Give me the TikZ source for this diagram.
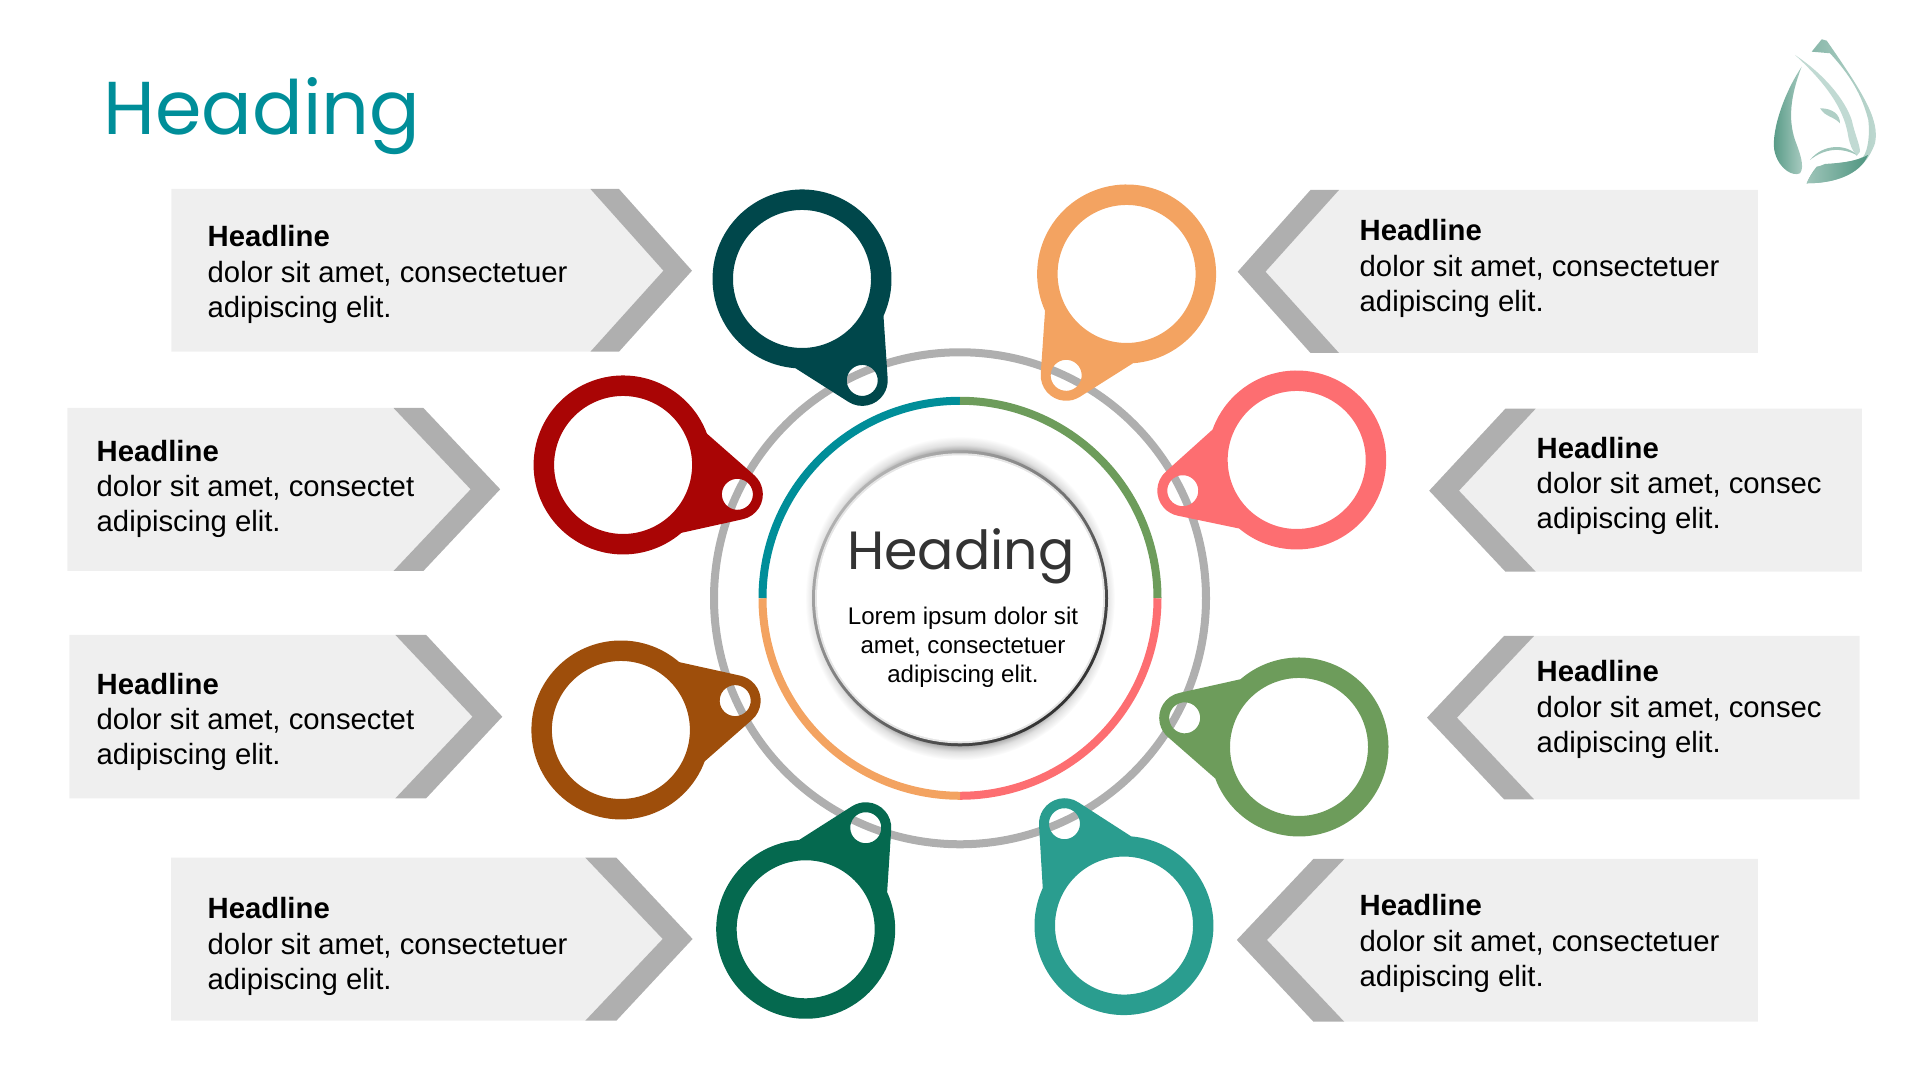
\documentclass[tikz,border=0pt]{standalone}
\usepackage{fontspec}
\setmainfont{Liberation Sans}
\newfontfamily\poppins{Poppins}
\usetikzlibrary{calc,positioning}

\definecolor{headteal}{HTML}{008E99}
\definecolor{panelgrey}{HTML}{EFEFEF}
\definecolor{chevgrey}{HTML}{AFAFAF}
\definecolor{darkteal}{HTML}{00474B}
\definecolor{sandy}{HTML}{F3A361}
\definecolor{coral}{HTML}{FD6E71}
\definecolor{leafgreen}{HTML}{6D9C5B}
\definecolor{seateal}{HTML}{2A9D8F}
\definecolor{pinegreen}{HTML}{05694F}
\definecolor{rustbrown}{HTML}{9E4E0B}
\definecolor{deepred}{HTML}{A90505}
\definecolor{logogreen}{HTML}{4F9580}

\pgfdeclareradialshading{softglow}{\pgfpointorigin}{color(0bp)=(black!55); color(21bp)=(black!55); color(22.5bp)=(black!40); color(23.7bp)=(black!12); color(25bp)=(white); color(50bp)=(white)}

\tikzset{
  panel/.style={fill=panelgrey},
  chevron/.style={fill=chevgrey},
  ringseg/.style={line width=0.8mm, line cap=butt},
  itemtext/.style={align=left, anchor=west, inner sep=0pt, font=\fontsize{8.33}{10}\selectfont},
  pendant/.pic={
    \fill[pic actions, even odd rule] (34.9:89.5) arc[start angle=34.9, end angle=325.1, radius=89.5]
      -- (129.4,-22.8) arc[start angle=-63.4, end angle=63.4, radius=25.5] -- cycle
      (0,0) circle[radius=69] (118,0) circle[radius=15.5];
  }
}

\begin{document}
\begin{tikzpicture}[x=0.01cm, y=0.01cm]
\useasboundingbox (0,0) rectangle (1920,1080);

% Titolo
\node[anchor=base west, inner sep=0pt, text=headteal, font=\fontsize{21.3}{26}\selectfont\poppins] (title) at (103,945) {Heading};

% Logo
\shade[left color=logogreen, right color=logogreen!45] (1801.7,1013.3) .. controls (1781.7,983.3) and (1770,943.3) .. (1775,926.7)
  .. controls (1780,910) and (1793.3,903.3) .. (1800,906.7) .. controls (1805,913.3) and (1800,926.7) .. (1795,940)
  .. controls (1788.3,960) and (1790,983.3) .. (1801.7,1013.3) -- cycle;
\shade[left color=logogreen!70, right color=logogreen!35] (1821.7,1040.7) -- (1811.7,1028.3) -- (1830,1026.7)
  .. controls (1850,1005) and (1862,985) .. (1868.3,960) .. controls (1870,945) and (1868,930) .. (1863.3,923.3)
  .. controls (1851.7,916.7) and (1830,916.7) .. (1816.7,913.3) .. controls (1812,908) and (1808,900) .. (1806.7,896.7)
  .. controls (1833.3,896.7) and (1863.3,903.3) .. (1875,936.7) .. controls (1880,960) and (1863.3,986.7) .. (1826.7,1039.3) -- cycle;
\shade[left color=logogreen!55, right color=logogreen] (1806.7,896.7) .. controls (1812,908) and (1816,913) .. (1825,916)
  .. controls (1840,917) and (1855,918) .. (1868,925) .. controls (1860,905) and (1833.3,896.7) .. (1806.7,896.7) -- cycle;
\fill[logogreen!35] (1795,1025) .. controls (1825,1005) and (1845,980) .. (1851.7,960)
  .. controls (1855,945) and (1860,935) .. (1860,928.3) -- (1856.7,924) .. controls (1852,930) and (1850,935) .. (1848.3,943.3)
  .. controls (1845,965) and (1833.3,990) .. (1795,1025) -- cycle;
\fill[logogreen!55] (1810,920) .. controls (1823.3,936.7) and (1846.7,936) .. (1856.7,925)
  .. controls (1843.3,931.7) and (1826.7,933.3) .. (1810,920) -- cycle;
\fill[logogreen!45] (1820,971.7) .. controls (1833.3,971.7) and (1840,965) .. (1840,956.7)
  .. controls (1831.7,965) and (1826.7,961.7) .. (1820,971.7) -- cycle;

% Frecce a sinistra
\fill[panel] (171.4,891) -- (590.4,891) -- (663.4,809.3) -- (590.4,728.3) -- (171.4,728.3) -- cycle;
\fill[chevron] (590.4,891) -- (619,891) -- (692,809.3) -- (619,728.3) -- (590.4,728.3) -- (663.4,809.3) -- cycle;
\fill[panel] (67.3,672) -- (393.5,672) -- (470.6,590.7) -- (393.5,509) -- (67.3,509) -- cycle;
\fill[chevron] (393.5,672) -- (423.4,672) -- (500.2,590.7) -- (423.4,509) -- (393.5,509) -- (470.6,590.7) -- cycle;
\fill[panel] (69.3,445) -- (395.4,445) -- (472.5,363.3) -- (395.4,281.7) -- (69.3,281.7) -- cycle;
\fill[chevron] (395.4,445) -- (426.2,445) -- (502.3,363.3) -- (426.2,281.7) -- (395.4,281.7) -- (472.5,363.3) -- cycle;
\fill[panel] (171,222.3) -- (585.3,222.3) -- (662.7,141) -- (585.3,59.3) -- (171,59.3) -- cycle;
\fill[chevron] (585.3,222.3) -- (616.4,222.3) -- (692.6,141) -- (616.4,59.3) -- (585.3,59.3) -- (662.7,141) -- cycle;

% Frecce a destra
\fill[panel] (1757.9,890) -- (1339,890) -- (1265.5,808.3) -- (1339,727) -- (1757.9,727) -- cycle;
\fill[chevron] (1339,890) -- (1310.5,890) -- (1237.7,808.3) -- (1310.5,727) -- (1339,727) -- (1265.5,808.3) -- cycle;
\fill[panel] (1861.8,671.3) -- (1535.7,671.3) -- (1459,589.3) -- (1535.7,508.3) -- (1861.8,508.3) -- cycle;
\fill[chevron] (1535.7,671.3) -- (1505.4,671.3) -- (1429.2,589.3) -- (1505.4,508.3) -- (1535.7,508.3) -- (1459,589.3) -- cycle;
\fill[panel] (1859.7,444) -- (1534,444) -- (1457,362.3) -- (1534,280.7) -- (1859.7,280.7) -- cycle;
\fill[chevron] (1534,444) -- (1504,444) -- (1427,362.3) -- (1504,280.7) -- (1534,280.7) -- (1457,362.3) -- cycle;
\fill[panel] (1757.9,221) -- (1344.2,221) -- (1267,140) -- (1344.2,58.3) -- (1757.9,58.3) -- cycle;
\fill[chevron] (1344.2,221) -- (1313.4,221) -- (1236.8,140) -- (1313.4,58.3) -- (1344.2,58.3) -- (1267,140) -- cycle;

% Testi
\node[itemtext] (lefta) at (207,805.5) {\textbf{Headline}\\dolor sit amet, consectetuer\\adipiscing elit.};
\node[itemtext] (leftb) at (96,591) {\textbf{Headline}\\dolor sit amet, consectet\\adipiscing elit.};
\node[itemtext] (leftc) at (96,358) {\textbf{Headline}\\dolor sit amet, consectet\\adipiscing elit.};
\node[itemtext] (leftd) at (207,133.5) {\textbf{Headline}\\dolor sit amet, consectetuer\\adipiscing elit.};
\node[itemtext] (righta) at (1359,811.5) {\textbf{Headline}\\dolor sit amet, consectetuer\\adipiscing elit.};
\node[itemtext] (rightb) at (1536,594) {\textbf{Headline}\\dolor sit amet, consec\\adipiscing elit.};
\node[itemtext] (rightc) at (1536,370.5) {\textbf{Headline}\\dolor sit amet, consec\\adipiscing elit.};
\node[itemtext] (rightd) at (1359,136.5) {\textbf{Headline}\\dolor sit amet, consectetuer\\adipiscing elit.};

% Anelli
\coordinate (hub) at (960,481.7);
\draw[chevgrey, line width=0.8mm] (hub) circle[radius=246];
\draw[ringseg, headteal] ($(hub)+(180:197.5)$) arc[start angle=180, end angle=90, radius=197.5];
\draw[ringseg, leafgreen] ($(hub)+(90:197.5)$) arc[start angle=90, end angle=0, radius=197.5];
\draw[ringseg, coral] ($(hub)+(0:197.5)$) arc[start angle=0, end angle=-90, radius=197.5];
\draw[ringseg, sandy] ($(hub)+(-90:197.5)$) arc[start angle=-90, end angle=-180, radius=197.5];

% Cerchio centrale
\shade[shading=softglow] (hub) ellipse[x radius=155, y radius=162];
\shade[left color=black!30, right color=black!80, shading angle=45] (hub) circle[radius=148];
\fill[black!10] (hub) circle[radius=145];
\fill[white] (hub) circle[radius=143];
\node[anchor=base, inner sep=0pt, text=black!80, font=\fontsize{15.3}{19}\selectfont\poppins] (hubtitle) at (961,510) {Heading};
\node[anchor=center, align=center, inner sep=0pt, font=\fontsize{6.85}{8.25}\selectfont] (hubtext) at (963,433) {Lorem ipsum dolor sit\\amet, consectetuer\\adipiscing elit.};

% Pendenti
\pic[fill=darkteal, rotate=-59.3] (pina) at (802,801) {pendant};
\pic[fill=sandy, rotate=-120.8] (pinb) at (1126.6,806) {pendant};
\pic[fill=coral, rotate=-164.9] (pinc) at (1296.7,620) {pendant};
\pic[fill=leafgreen, rotate=165.7] (pind) at (1299,333) {pendant};
\pic[fill=seateal, rotate=120.3] (pine) at (1124,154.4) {pendant};
\pic[fill=pinegreen, rotate=59.4] (pinf) at (805.7,150.7) {pendant};
\pic[fill=rustbrown, rotate=14.4] (ping) at (620.9,350) {pendant};
\pic[fill=deepred, rotate=-14.4] (pinh) at (623.1,615) {pendant};

\end{tikzpicture}
\end{document}
